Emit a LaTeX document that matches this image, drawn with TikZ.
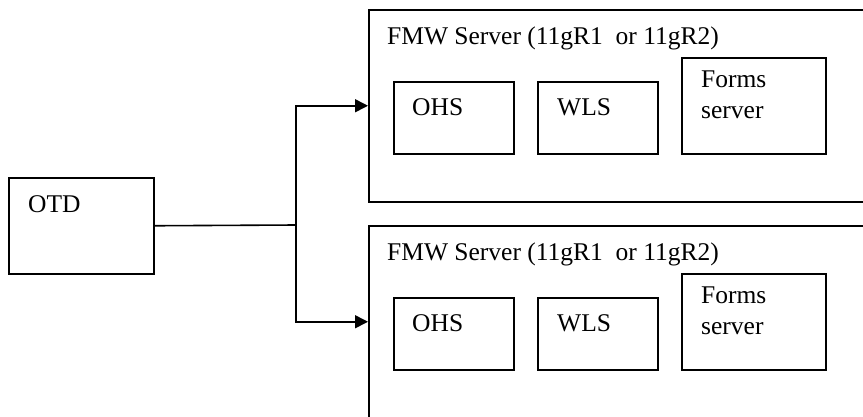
\documentclass[tikz,border=0pt]{standalone}
\usepackage{fontspec}
\setmainfont{Liberation Serif}
\usetikzlibrary{arrows.meta}
\begin{document}
\begin{tikzpicture}[x=1pt,y=-1pt,
  box/.style={draw,line width=1.5pt,rectangle,inner sep=0pt,anchor=north west},
  lbl/.style={anchor=base west,inner sep=0pt,font=\fontsize{25.5}{31}\selectfont},
  conn/.style={line width=1.6pt},
  arr/.style={conn,-{Triangle[length=13pt,width=13pt]}}]
\useasboundingbox (0,0) rectangle (863,416);
% OTD
\node[box,minimum width=145pt,minimum height=96pt] (otd) at (8,177) {};
\node[lbl] (otdl) at (28,212) {OTD};
% server boxes
\foreach \i/\y in {1/0,2/216}{
  \node[box,minimum width=540pt,minimum height=192pt] (srv\i) at (368,9+\y) {};
  \node[lbl] (srvl\i) at (387,44+\y) {FMW Server (11gR1\ \ or 11gR2)};
  \node[box,minimum width=120pt,minimum height=72pt] (ohs\i) at (393,81+\y) {};
  \node[lbl] (ohsl\i) at (412,115+\y) {OHS};
  \node[box,minimum width=120pt,minimum height=72pt] (wls\i) at (537,81+\y) {};
  \node[lbl] (wlsl\i) at (557,115+\y) {WLS};
  \node[box,minimum width=144pt,minimum height=96pt] (frm\i) at (681,57+\y) {};
  \node[lbl,align=left,anchor=north west] (frml\i) at (701,71+\y) {Forms\\server};
}
\coordinate (j) at (296,225);
\draw[conn] (otd.east) -- (j);
\draw[arr] (j) |- (srv1.west);
\draw[arr] (j) |- (srv2.west);
\end{tikzpicture}
\end{document}
